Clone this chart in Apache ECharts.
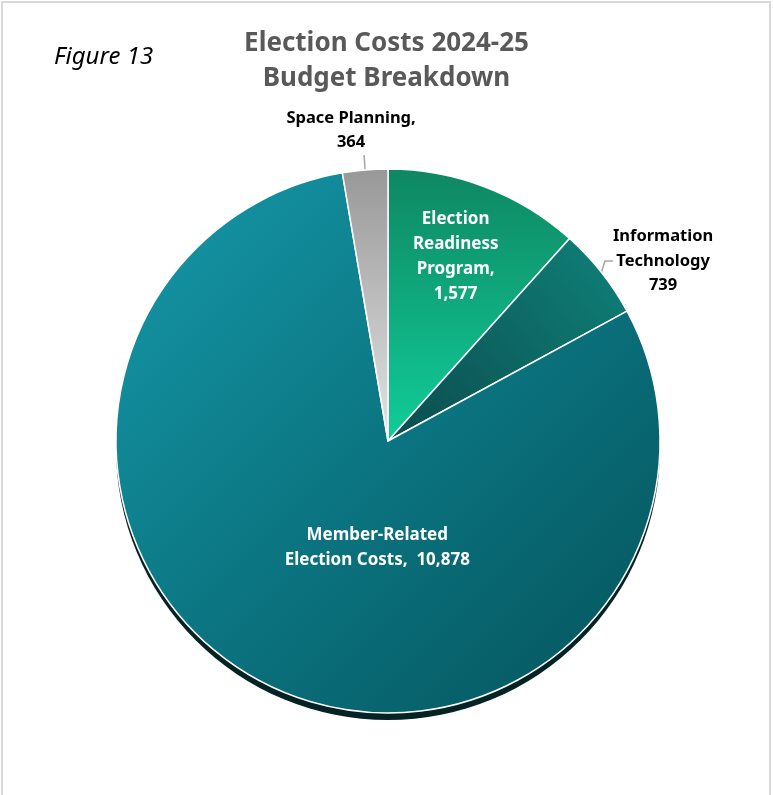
<!DOCTYPE html>
<html>
<head>
<meta charset="utf-8">
<script src="https://cdn.jsdelivr.net/npm/echarts@6/dist/echarts.min.js"></script>
<style>
  html, body { margin: 0; padding: 0; background: #ffffff; }
  #chart { width: 773px; height: 795px; }
</style>
</head>
<body>
<div id="chart"></div>
<script>
// Budget categories, in clockwise order from 12 o'clock
const categories = [
  'Election Readiness Program',
  'Information Technology',
  'Member-Related Election Costs',
  'Space Planning'
];
// Costs (thousands of dollars)
const costs = [1577, 739, 10878, 364];
// Wrapped label captions and the separator placed before each value
const captions = [
  'Election\nReadiness\nProgram,',
  'Information\nTechnology',
  'Member-Related\nElection Costs, ',
  'Space Planning,'
];
const valueSeparators = ['\n', '\n', ' ', '\n'];
// Where each label sits relative to its slice
const labelPlacement = ['inside', 'outsideRight', 'inside', 'outsideTop'];

const fmt = v => v.toLocaleString('en-US');

const sliceFills = [
  // Election Readiness: green, brightening toward the centre
  new echarts.graphic.LinearGradient(0, 0, 0, 1, [
    { offset: 0, color: '#0e8762' }, { offset: 1, color: '#11cd99' }
  ]),
  // Information Technology: deep teal, darker at the centre
  new echarts.graphic.LinearGradient(0, 1, 1, 0, [
    { offset: 0, color: '#0b4c4e' }, { offset: 1, color: '#0f8179' }
  ]),
  // Member-Related: teal, lighter top-left to dark bottom-right
  new echarts.graphic.LinearGradient(0, 0, 1, 1, [
    { offset: 0, color: '#1699aa' }, { offset: 0.5, color: '#0b7581' }, { offset: 1, color: '#04535b' }
  ]),
  // Space Planning: grey, lighter toward the centre
  new echarts.graphic.LinearGradient(0, 0, 0, 1, [
    { offset: 0, color: '#989898' }, { offset: 1, color: '#e4e4e4' }
  ])
];

const insideShift = [[18, -55], null, [50, -18], null];

const pieData = categories.map((name, i) => ({
  name: name,
  value: costs[i],
  itemStyle: { color: sliceFills[i] },
  label: labelPlacement[i] === 'inside'
    ? { position: 'inside', color: '#ffffff', fontSize: 17, lineHeight: 25 }
    : {
        position: 'outside', color: '#000000', fontSize: 16.5, lineHeight: 24.5,
        // the extra right padding sets the caption left of its leader line
        padding: labelPlacement[i] === 'outsideTop' ? [0, 26, 0, 0] : 0
      },
  labelLine: labelPlacement[i] === 'outsideTop'
    ? { show: true, length: 12, length2: 0 }
    : labelPlacement[i] === 'outsideRight'
      ? { show: true, length: 7, length2: 8 }
      : { show: false }
}));

const chart = echarts.init(document.getElementById('chart'), null, { renderer: 'canvas' });

chart.setOption({
  backgroundColor: '#ffffff',
  animation: false,
  graphic: [
    {
      type: 'rect', silent: true, z: -10,
      shape: { x: 2, y: 2, width: 768, height: 820 },
      style: { fill: 'none', stroke: '#d9d9d9', lineWidth: 2 }
    },
    {
      type: 'text', left: 54, top: 45,
      style: { text: 'Figure 13', font: 'italic 24px "Noto Sans"', fill: '#000000' }
    }
  ],
  title: {
    text: 'Election Costs 2024-25\nBudget Breakdown',
    left: 'center',
    top: 21,
    textStyle: {
      fontFamily: 'Noto Sans',
      fontWeight: 'bold',
      fontSize: 26,
      lineHeight: 35,
      color: '#595959'
    }
  },
  series: [
    {
      // dark rim beneath the pie
      type: 'pie',
      silent: true,
      z: 1,
      center: [388, 448],
      radius: 272,
      label: { show: false },
      labelLine: { show: false },
      itemStyle: { color: '#052225', borderWidth: 0 },
      data: [{ value: 1, name: 'rim' }]
    },
    {
      type: 'pie',
      z: 2,
      center: [388, 441],
      radius: 272,
      startAngle: 90,
      clockwise: true,
      avoidLabelOverlap: false,
      itemStyle: { borderColor: '#ffffff', borderWidth: 1.5 },
      label: {
        show: true,
        fontFamily: 'Noto Sans',
        fontWeight: 'bold',
        align: 'center',
        formatter: p => captions[p.dataIndex] + valueSeparators[p.dataIndex] + fmt(p.value)
      },
      labelLine: {
        lineStyle: { color: '#a6a6a6', width: 1.5 }
      },
      labelLayout: p => {
        const kind = labelPlacement[p.dataIndex];
        if (kind === 'inside') {
          const s = insideShift[p.dataIndex];
          return { dx: s[0], dy: s[1] };
        }
        const pts = p.labelLinePoints;
        const end = pts[pts.length - 1];
        if (kind === 'outsideTop') {
          return { x: end[0], y: end[1] - 3, align: 'center', verticalAlign: 'bottom' };
        }
        return { x: end[0] - 2 + p.labelRect.width / 2, y: end[1] - 7, align: 'center', verticalAlign: 'middle' };
      },
      data: pieData
    }
  ]
});
</script>
</body>
</html>
